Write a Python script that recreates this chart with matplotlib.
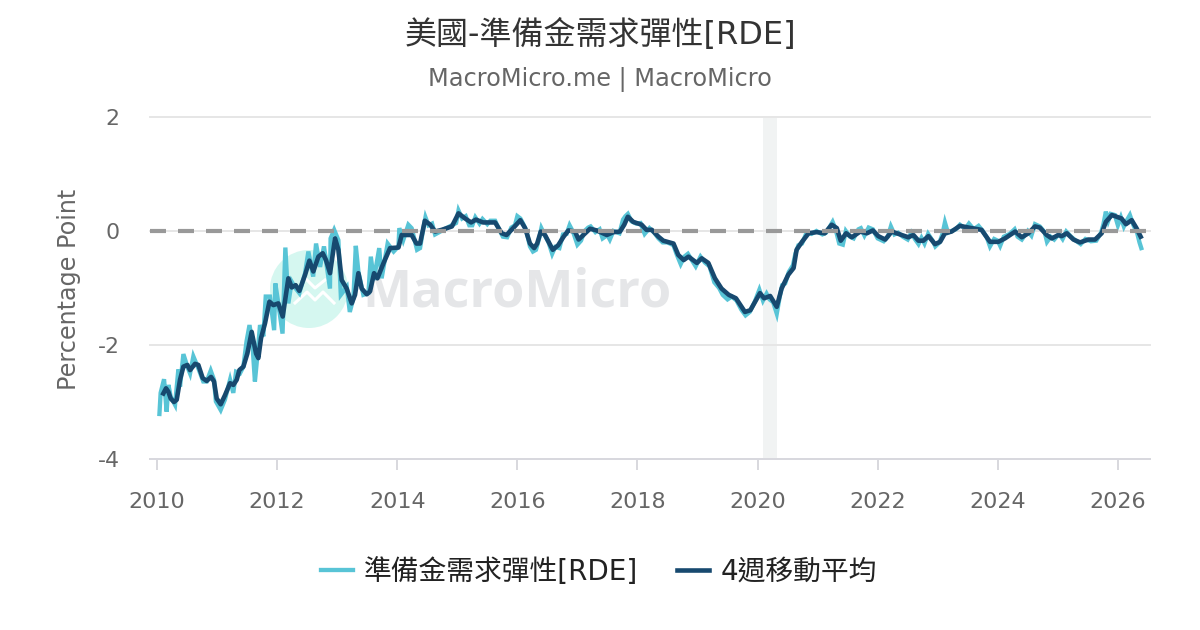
import matplotlib
matplotlib.use("Agg")
import matplotlib.pyplot as plt
from matplotlib.lines import Line2D
from matplotlib.patches import Ellipse

CJK = ['DejaVu Sans', 'Noto Sans CJK TC']
plt.rcParams['font.family'] = CJK
plt.rcParams['axes.unicode_minus'] = False

title_text = "美國-準備金需求彈性[RDE]"
subtitle_text = "MacroMicro.me | MacroMicro"
ylabel_text = "Percentage Point"
raw_name = "準備金需求彈性[RDE]"
ma_name = "4週移動平均"
x_ticks = [2010, 2012, 2014, 2016, 2018, 2020, 2022, 2024, 2026]
y_ticks = [-4, -2, 0, 2]
recession = (2020.09, 2020.33)

raw_t = [2010.04, 2010.06, 2010.117, 2010.16, 2010.19, 2010.228, 2010.30, 2010.355, 2010.383, 2010.439,
         2010.505, 2010.55, 2010.605, 2010.688, 2010.77, 2010.827, 2010.894, 2010.949, 2010.98, 2011.06,
         2011.13, 2011.216, 2011.27, 2011.316, 2011.38, 2011.438, 2011.49, 2011.54, 2011.59, 2011.63,
         2011.67, 2011.715, 2011.77, 2011.81, 2011.88, 2011.95, 2011.97, 2012.02, 2012.09, 2012.137,
         2012.187, 2012.243, 2012.31, 2012.37, 2012.465, 2012.52, 2012.60, 2012.648, 2012.715, 2012.78,
         2012.88, 2012.89, 2012.95, 2013.02, 2013.06, 2013.16, 2013.21, 2013.27, 2013.31, 2013.353,
         2013.436, 2013.52, 2013.56, 2013.61, 2013.70, 2013.74, 2013.84, 2013.94, 2014.02, 2014.035,
         2014.10, 2014.185, 2014.24, 2014.28, 2014.33, 2014.38, 2014.43, 2014.47, 2014.52, 2014.58,
         2014.63, 2014.70, 2014.78, 2014.91, 2014.98, 2015.02, 2015.08, 2015.14, 2015.20, 2015.25,
         2015.30, 2015.37, 2015.42, 2015.50, 2015.55, 2015.63, 2015.70, 2015.76, 2015.83, 2015.90,
         2015.96, 2016.00, 2016.05, 2016.10, 2016.15, 2016.21, 2016.26, 2016.31, 2016.37, 2016.40,
         2016.45, 2016.52, 2016.58, 2016.63, 2016.70, 2016.76, 2016.82, 2016.87, 2016.93, 2017.00,
         2017.06, 2017.12, 2017.18, 2017.22, 2017.30, 2017.37, 2017.42, 2017.50, 2017.54, 2017.60,
         2017.70, 2017.76, 2017.80, 2017.84, 2017.90, 2017.98, 2018.05, 2018.12, 2018.20, 2018.28,
         2018.35, 2018.42, 2018.50, 2018.60, 2018.65, 2018.72, 2018.78, 2018.84, 2018.90, 2018.97,
         2019.05, 2019.12, 2019.20, 2019.28, 2019.36, 2019.42, 2019.50, 2019.57, 2019.65, 2019.73,
         2019.80, 2019.87, 2019.95, 2020.03, 2020.09, 2020.15, 2020.20, 2020.26, 2020.32, 2020.37,
         2020.41, 2020.46, 2020.52, 2020.59, 2020.63, 2020.68, 2020.74, 2020.82, 2020.90, 2020.98,
         2021.08, 2021.14, 2021.20, 2021.25, 2021.30, 2021.36, 2021.42, 2021.47, 2021.54, 2021.60,
         2021.68, 2021.72, 2021.78, 2021.85, 2021.92, 2022.00, 2022.10, 2022.17, 2022.22, 2022.28,
         2022.34, 2022.42, 2022.50, 2022.56, 2022.62, 2022.68, 2022.73, 2022.78, 2022.84, 2022.92,
         2022.96, 2023.03, 2023.08, 2023.12, 2023.17, 2023.23, 2023.30, 2023.37, 2023.46, 2023.52,
         2023.60, 2023.68, 2023.75, 2023.82, 2023.87, 2023.94, 2024.00, 2024.04, 2024.10, 2024.20,
         2024.28, 2024.33, 2024.40, 2024.50, 2024.56, 2024.62, 2024.70, 2024.78, 2024.82, 2024.88,
         2024.94, 2025.02, 2025.08, 2025.14, 2025.22, 2025.30, 2025.38, 2025.46, 2025.55, 2025.64,
         2025.72, 2025.76, 2025.80, 2025.84, 2025.88, 2025.95, 2026.00, 2026.05, 2026.10, 2026.14,
         2026.20, 2026.26, 2026.32, 2026.36, 2026.39]
raw_v = [-3.21, -2.84, -2.60, -3.17, -2.70, -2.91, -3.05, -2.43, -2.73, -2.16,
         -2.38, -2.50, -2.20, -2.41, -2.64, -2.64, -2.45, -2.61, -2.99, -3.14,
         -2.96, -2.61, -2.84, -2.47, -2.50, -2.38, -1.94, -1.65, -2.00, -2.64,
         -2.20, -1.65, -1.85, -1.15, -1.15, -1.74, -0.92, -1.27, -1.80, -0.29,
         -1.27, -0.89, -1.01, -1.09, -0.74, -0.36, -0.80, -0.22, -0.63, -0.27,
         -1.01, -0.13, 0.02, -0.16, -1.12, -0.98, -1.42, -1.18, -0.26, -0.71,
         -1.12, -1.09, -0.45, -0.86, -0.30, -0.83, -0.22, -0.36, -0.27, 0.05,
         -0.16, 0.11, 0.05, -0.12, -0.33, -0.30, 0.02, 0.24, 0.10, 0.13,
         -0.06, -0.02, 0.03, 0.10, 0.14, 0.36, 0.22, 0.26, 0.10, 0.10,
         0.24, 0.13, 0.21, 0.12, 0.18, 0.18, 0.02, -0.10, -0.11, 0.06,
         0.10, 0.26, 0.22, 0.12, 0.00, -0.27, -0.36, -0.33, -0.10, 0.05,
         -0.06, -0.20, -0.40, -0.28, -0.30, -0.06, -0.05, 0.10, -0.02, -0.24,
         -0.17, 0.00, 0.06, 0.08, -0.02, 0.03, -0.13, -0.07, -0.15, 0.00,
         -0.04, 0.20, 0.26, 0.30, 0.17, 0.13, 0.14, -0.05, 0.05, -0.03,
         -0.13, -0.20, -0.20, -0.25, -0.40, -0.58, -0.45, -0.40, -0.50, -0.62,
         -0.45, -0.55, -0.62, -0.90, -1.00, -1.12, -1.20, -1.15, -1.22, -1.38,
         -1.48, -1.42, -1.25, -1.03, -1.22, -1.10, -1.20, -1.25, -1.45, -1.15,
         -0.95, -0.92, -0.72, -0.60, -0.40, -0.25, -0.22, -0.02, -0.05, 0.00,
         -0.06, -0.03, 0.07, 0.16, 0.03, -0.22, -0.24, 0.00, -0.10, -0.13,
         0.03, 0.05, -0.08, 0.06, 0.03, -0.13, -0.18, -0.10, 0.08, -0.06,
         -0.03, -0.10, -0.15, -0.03, -0.14, -0.23, -0.12, -0.22, -0.05, -0.18,
         -0.27, -0.20, -0.05, 0.15, -0.03, 0.00, 0.03, 0.11, 0.04, 0.13,
         0.03, 0.09, 0.00, -0.12, -0.27, -0.14, -0.17, -0.26, -0.10, -0.05,
         0.03, -0.10, -0.15, 0.00, -0.08, 0.12, 0.08, -0.02, -0.19, -0.10,
         -0.15, -0.05, -0.14, -0.01, -0.10, -0.17, -0.23, -0.14, -0.18, -0.17,
         -0.03, 0.12, 0.34, 0.18, 0.30, 0.28, 0.10, 0.24, 0.08, 0.17,
         0.28, 0.10, -0.03, -0.20, -0.30]

ma_t = [2010.105, 2010.15, 2010.189, 2010.228, 2010.283, 2010.328, 2010.383, 2010.439, 2010.505, 2010.55,
        2010.633, 2010.688, 2010.76, 2010.827, 2010.90, 2010.949, 2010.994, 2011.06, 2011.132, 2011.216,
        2011.271, 2011.327, 2011.371, 2011.438, 2011.504, 2011.576, 2011.649, 2011.687, 2011.732, 2011.798,
        2011.871, 2011.937, 2012.02, 2012.093, 2012.187, 2012.243, 2012.309, 2012.37, 2012.465, 2012.537,
        2012.603, 2012.687, 2012.759, 2012.814, 2012.881, 2012.964, 2013.02, 2013.075, 2013.158, 2013.242,
        2013.297, 2013.353, 2013.408, 2013.492, 2013.547, 2013.614, 2013.67, 2013.769, 2013.88, 2014.02,
        2014.074, 2014.13, 2014.24, 2014.32, 2014.38, 2014.46, 2014.55, 2014.63, 2014.74, 2014.91,
        2015.02, 2015.13, 2015.23, 2015.31, 2015.43, 2015.63, 2015.74, 2015.82, 2015.93, 2016.05,
        2016.13, 2016.21, 2016.28, 2016.33, 2016.39, 2016.46, 2016.59, 2016.68, 2016.77, 2016.85,
        2016.96, 2017.02, 2017.10, 2017.21, 2017.32, 2017.49, 2017.60, 2017.71, 2017.78, 2017.84,
        2017.93, 2018.07, 2018.15, 2018.24, 2018.35, 2018.43, 2018.60, 2018.68, 2018.77, 2018.85,
        2018.99, 2019.07, 2019.18, 2019.29, 2019.40, 2019.52, 2019.64, 2019.79, 2019.88, 2019.96,
        2020.04, 2020.11, 2020.21, 2020.32, 2020.40, 2020.51, 2020.60, 2020.65, 2020.74, 2020.85,
        2020.985, 2021.12, 2021.235, 2021.32, 2021.385, 2021.475, 2021.57, 2021.71, 2021.82, 2021.92,
        2022.01, 2022.125, 2022.235, 2022.375, 2022.51, 2022.595, 2022.68, 2022.76, 2022.845, 2022.955,
        2023.04, 2023.12, 2023.23, 2023.37, 2023.565, 2023.73, 2023.87, 2024.01, 2024.12, 2024.29,
        2024.40, 2024.51, 2024.62, 2024.70, 2024.815, 2024.90, 2025.01, 2025.065, 2025.15, 2025.26,
        2025.37, 2025.51, 2025.62, 2025.73, 2025.80, 2025.90, 2025.98, 2026.06, 2026.135, 2026.23,
        2026.31, 2026.38]
ma_v = [-2.85, -2.76, -2.82, -2.94, -3.00, -2.96, -2.61, -2.38, -2.35, -2.44,
        -2.33, -2.35, -2.58, -2.63, -2.56, -2.64, -2.94, -3.04, -2.88, -2.67,
        -2.70, -2.61, -2.44, -2.38, -2.15, -1.77, -2.15, -2.23, -1.88, -1.62,
        -1.24, -1.30, -1.27, -1.50, -0.83, -0.99, -0.95, -1.05, -0.77, -0.52,
        -0.71, -0.45, -0.39, -0.51, -0.74, -0.13, -0.33, -0.86, -1.01, -1.27,
        -1.12, -0.74, -1.01, -1.11, -1.06, -0.74, -0.83, -0.57, -0.30, -0.29,
        -0.07, -0.07, -0.07, -0.22, -0.22, 0.18, 0.11, -0.01, 0.02, 0.08,
        0.31, 0.22, 0.15, 0.20, 0.15, 0.15, -0.04, -0.07, 0.05, 0.19,
        0.05, -0.22, -0.30, -0.22, -0.01, -0.07, -0.33, -0.25, -0.10, 0.01,
        -0.01, -0.15, -0.07, 0.04, 0.01, -0.07, -0.02, -0.01, 0.11, 0.25,
        0.16, 0.11, 0.02, 0.02, -0.10, -0.17, -0.22, -0.42, -0.51, -0.45,
        -0.56, -0.48, -0.56, -0.83, -1.01, -1.12, -1.18, -1.42, -1.39, -1.24,
        -1.09, -1.18, -1.14, -1.33, -1.01, -0.77, -0.65, -0.33, -0.19, -0.04,
        -0.02, -0.04, 0.11, 0.05, -0.17, -0.04, -0.11, -0.01, -0.04, 0.01,
        -0.09, -0.15, -0.01, -0.06, -0.11, -0.07, -0.17, -0.17, -0.09, -0.23,
        -0.19, -0.04, -0.01, 0.09, 0.05, 0.02, -0.19, -0.19, -0.13, -0.01,
        -0.11, -0.04, 0.08, 0.06, -0.07, -0.13, -0.07, -0.09, -0.04, -0.15,
        -0.20, -0.15, -0.15, -0.04, 0.16, 0.28, 0.25, 0.22, 0.12, 0.19,
        0.05, -0.10]

RAW_COLOR = "#58c4d6"
MA_COLOR = "#17496f"
TEXT_GREY = "#666666"
GRID = "#e6e6e6"

W, H = 1200, 630
fig = plt.figure(figsize=(W / 100, H / 100), dpi=100, facecolor="white")
ax = fig.add_axes([150 / W, (H - 459) / H, 1000 / W, 342 / H])
ax.set_facecolor("none")
ax.set_xlim(2009.883, 2026.535)
ax.set_ylim(-4, 2)

# Brand mark sits behind the plot, in figure coordinates
fig.add_artist(Ellipse((309 / W, 1 - 289 / H), 78 / W, 78 / H, transform=fig.transFigure,
                       facecolor="#d5f7f0", edgecolor="none", zorder=-5))
for xs, ys in [((305, 315, 325), (278, 288, 280)),
               ((295, 307, 315, 323, 334), (303, 292, 300, 292, 303))]:
    fig.add_artist(Line2D([x / W for x in xs], [1 - y / H for y in ys], transform=fig.transFigure,
                          color="white", lw=2.2, zorder=-4))
fig.text(517 / W, 1 - 293 / H, "MacroMicro", color="#e5e6e8", fontsize=37.5, fontweight="bold",
         family="Open Sans", ha="center", va="center", zorder=-4)

ax.set_yticks(y_ticks)
ax.set_xticks(x_ticks)
ax.set_xticklabels([str(t) for t in x_ticks])
ax.grid(axis="y", color=GRID, lw=1.4, zorder=0)
for gl in ax.get_ygridlines():
    gl.set_clip_on(False)
for s in ("top", "left", "right"):
    ax.spines[s].set_visible(False)
ax.spines["bottom"].set_color("#d8d8de")
ax.spines["bottom"].set_linewidth(1.4)
ax.tick_params(axis="y", length=0, pad=22, labelsize=15.8, labelcolor=TEXT_GREY)
ax.tick_params(axis="x", length=8, width=1.4, color="#d8d8de", pad=16, labelsize=16, labelcolor=TEXT_GREY)
ax.set_ylabel(ylabel_text, fontsize=17.2, color=TEXT_GREY)
ax.yaxis.set_label_coords(-69 / 1000, 0.495)

ax.axvspan(*recession, color="#f1f3f3", lw=0, zorder=1)
ax.plot(raw_t, raw_v, color=RAW_COLOR, lw=3.1, solid_joinstyle="miter", zorder=3, label=raw_name)
ax.plot(ma_t, ma_v, color=MA_COLOR, lw=3.3, solid_joinstyle="round", zorder=4, label=ma_name)
ax.axhline(0, color="#999999", lw=3, dashes=(3.84, 2.88), dash_capstyle="butt", zorder=5)

fig.text(600 / W, 1 - 35 / H, title_text, fontsize=23, color="#333333", ha="center", va="center")
fig.text(600 / W, 1 - 80 / H, subtitle_text, fontsize=17.25, color=TEXT_GREY, ha="center", va="center")

handles, labels = ax.get_legend_handles_labels()
fig.legend(handles, labels, loc="center", bbox_to_anchor=(599 / W, 1 - 572 / H), ncol=2, frameon=False,
           fontsize=20, handlelength=1.15, handletextpad=0.4, columnspacing=1.4, labelcolor="#222222")

fig.savefig("out.png", dpi=100, facecolor="white")
